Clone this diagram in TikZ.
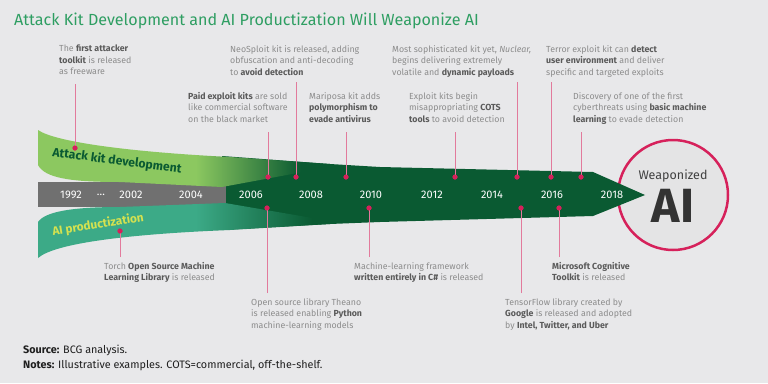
\documentclass[tikz,border=0pt]{standalone}
\usepackage{fontspec}
\setmainfont{Fira Sans}
\definecolor{bg}{RGB}{232,232,234}
\definecolor{titlegreen}{RGB}{46,158,98}
\definecolor{lgreen}{RGB}{140,200,96}
\definecolor{dgreen}{RGB}{10,90,50}
\definecolor{teal}{RGB}{60,170,135}
\definecolor{barg}{RGB}{112,112,112}
\definecolor{pinkline}{RGB}{226,122,156}
\definecolor{reddot}{RGB}{214,33,91}
\definecolor{txtlight}{RGB}{140,140,140}
\definecolor{txtdark}{RGB}{90,90,90}
\definecolor{circfill}{RGB}{228,228,229}
\definecolor{yellowg}{RGB}{212,225,80}
\pgfdeclarehorizontalshading{upshade}{100bp}{color(0bp)=(lgreen); color(25bp)=(lgreen); color(52bp)=(lgreen); color(70bp)=(dgreen); color(100bp)=(dgreen)}
\pgfdeclarehorizontalshading{lowshade}{100bp}{color(0bp)=(teal); color(25bp)=(teal); color(52bp)=(teal); color(72bp)=(dgreen); color(100bp)=(dgreen)}
\newcommand\hl[1]{{\bfseries\color{txtdark}#1}}
\tikzset{
  evtext/.style={anchor=north west, inner sep=0pt, align=left, text=txtlight, font=\fontsize{8.8}{11.5}\selectfont},
  year/.style={text=white, font=\fontsize{11}{12}\selectfont, inner sep=0pt},
  dot/.style={circle, fill=reddot, inner sep=0pt, minimum size=5pt},
  conn/.style={draw=pinkline, line width=0.8pt},
}
\begin{document}
\begin{tikzpicture}[x=1pt,y=-1pt]
\fill[bg] (0,0) rectangle (768,383);
\useasboundingbox (0,0) rectangle (768,383);
% title
\node[anchor=west, inner sep=0pt, text=titlegreen, font=\fontsize{16.1}{18}\selectfont] (title) at (14,21) {Attack Kit Development and AI Productization Will Weaponize AI};
% circle
\node[circle, draw=reddot, line width=2.5pt, fill=circfill, minimum size=110pt, inner sep=0pt] (circ) at (673,195) {};
\node[text=black!75, font=\fontsize{12.5}{14}\selectfont, inner sep=0pt] (weap) at (673,176) {Weaponized};
\node[text=black!80, font=\fontsize{48}{50}\selectfont\bfseries, inner sep=0pt] (ai) at (673,206) {AI};
% base dark arrow
\fill[dgreen] (222,156) -- (330,164) -- (380,167) -- (593,172) -- (645,195) -- (593,216) -- (380,222) -- (330,224) -- (222,230) -- cycle;
% gray bar
\fill[barg] (38,182) rectangle (226,207);
% upper band
\shade[shading=upshade] (38,130) .. controls (55,142) and (130,152) .. (230,157) -- (330,164) -- (330,167) -- (222,187) -- (120,182) .. controls (70,182) and (45,178) .. (38,165) -- cycle;
% lower band
\shade[shading=lowshade] (38,258) .. controls (55,243) and (130,234) .. (230,230) -- (330,224) -- (330,221) -- (225,203) -- (120,207) .. controls (70,207) and (45,212) .. (38,222) -- cycle;
% band labels
\node[rotate=-7.5, text=dgreen, font=\fontsize{12.2}{13}\selectfont\bfseries, inner sep=0pt] (lab1) at (117,161) {Attack kit development};
\node[rotate=9, text=yellowg, font=\fontsize{11.8}{13}\selectfont\bfseries, inner sep=0pt] (lab2) at (98,225) {AI productization};
% years
\node[year] (y1992) at (71,195) {1992};
\node[year] (ydots) at (101,195) {\dots};
\node[year] (y2002) at (131,195) {2002};
\node[year] (y2004) at (191,195) {2004};
\node[year] (y2006) at (251,195) {2006};
\node[year] (y2008) at (311,195) {2008};
\node[year] (y2010) at (371,195) {2010};
\node[year] (y2012) at (432,195) {2012};
\node[year] (y2014) at (492,195) {2014};
\node[year] (y2016) at (552,195) {2016};
\node[year] (y2018) at (612,195) {2018};
% top events
\node[evtext] (t1) at (59,45) {The \hl{first attacker}\\\hl{toolkit} is released\\as freeware};
\node[evtext] (t2) at (188,92) {\hl{Paid exploit kits} are sold\\like commercial software\\on the black market};
\node[evtext] (t3) at (230,45) {NeoSploit kit is released, adding\\obfuscation and anti-decoding\\to \hl{avoid detection}};
\node[evtext] (t4) at (309,92) {Mariposa kit adds\\\hl{polymorphism to}\\\hl{evade antivirus}};
\node[evtext] (t5) at (392,45) {Most sophisticated kit yet, \textit{Nuclear,}\\begins delivering extremely\\volatile and \hl{dynamic payloads}};
\node[evtext] (t6) at (409,92) {Exploit kits begin\\misappropriating \hl{COTS}\\\hl{tools} to avoid detection};
\node[evtext] (t7) at (546,45) {Terror exploit kit can \hl{detect}\\\hl{user environment} and deliver\\specific and targeted exploits};
\node[evtext] (t8) at (573,92) {Discovery of one of the first\\cyberthreats using \hl{basic machine}\\\hl{learning} to evade detection};
% bottom events
\node[evtext] (b1) at (104,262) {Torch \hl{Open Source Machine}\\\hl{Learning Library} is released};
\node[evtext] (b2) at (251,298) {Open source library Theano\\is released enabling \hl{Python}\\machine-learning models};
\node[evtext] (b3) at (354,262) {Machine-learning framework\\\hl{written entirely in C\#} is released};
\node[evtext] (b4) at (505,298) {TensorFlow library created by\\\hl{Google} is released and adopted\\by \hl{Intel, Twitter, and Uber}};
\node[evtext] (b5) at (552,262) {\hl{Microsoft Cognitive}\\\hl{Toolkit} is released};
% connector end points
\coordinate (c1) at (75,84);
\coordinate (c2) at (268,132);
\coordinate (c3) at (296,82);
\coordinate (c4) at (346,132);
\coordinate (c5) at (517,82);
\coordinate (c6) at (455,132);
\coordinate (c7) at (551,82);
\coordinate (c8) at (581,132);
\coordinate (e1) at (120,257);
\coordinate (e2) at (267,293);
\coordinate (e3) at (369,257);
\coordinate (e4) at (521,293);
\coordinate (e5) at (559,257);
% dots
\node[dot] (d1) at (75,148) {};
\node[dot] (d2) at (268,177) {};
\node[dot] (d3) at (296,177) {};
\node[dot] (d4) at (346,177) {};
\node[dot] (d5) at (517,177) {};
\node[dot] (d6) at (455,177) {};
\node[dot] (d7) at (551,177) {};
\node[dot] (d8) at (581,177) {};
\node[dot] (f1) at (120,231) {};
\node[dot] (f2) at (267,208) {};
\node[dot] (f3) at (369,208) {};
\node[dot] (f4) at (521,208) {};
\node[dot] (f5) at (559,208) {};
% connectors
\foreach \a/\b in {c1/d1,c2/d2,c3/d3,c4/d4,c5/d5,c6/d6,c7/d7,c8/d8,e1/f1,e2/f2,e3/f3,e4/f4,e5/f5}
  \draw[conn] (\a) -- (\b.center);
\foreach \b in {d1,d2,d3,d4,d5,d6,d7,d8,f1,f2,f3,f4,f5}
  \fill[reddot] (\b) circle (2.5pt);
% footer
\node[anchor=north west, inner sep=0pt, align=left, text=black!88, font=\fontsize{10.8}{15}\selectfont] (foot) at (23,345) {\textbf{Source:} BCG analysis.\\\textbf{Notes:} Illustrative examples. COTS=commercial, off-the-shelf.};
\end{tikzpicture}
\end{document}
